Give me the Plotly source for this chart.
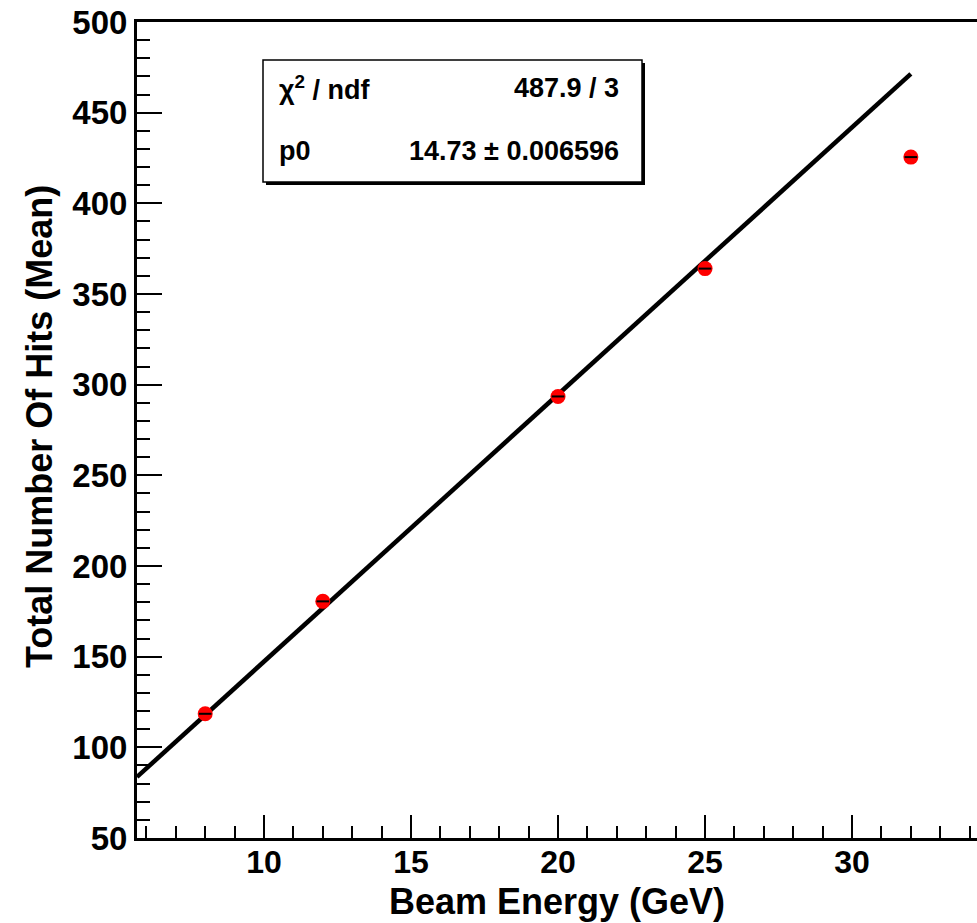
import plotly.graph_objects as go

# Data
beam_energy = [8, 12, 20, 25, 32]
mean_hits = [118.5, 180.5, 293.5, 364.0, 425.5]

# Fit: y = p0 * x
p0 = 14.73
p0_err = 0.006596
chi2 = 487.9
ndf = 3
fit_x = [5.68, 32.0]
fit_y = [p0 * v for v in fit_x]

x_range = [5.68, 34.25]
y_range = [50, 500]
x_ticks = [10, 15, 20, 25, 30]
y_ticks = [50, 100, 150, 200, 250, 300, 350, 400, 450, 500]

FONT = "Liberation Sans"

fig = go.Figure()
fig.add_trace(go.Scatter(
    x=fit_x, y=fit_y, mode="lines",
    line=dict(color="black", width=4.5), showlegend=False, hoverinfo="skip"))
fig.add_trace(go.Scatter(
    x=beam_energy, y=mean_hits, mode="markers",
    marker=dict(color="red", size=15, symbol="circle"),
    showlegend=False))
# small horizontal error dash drawn on top of each marker
fig.add_trace(go.Scatter(
    x=beam_energy, y=mean_hits, mode="markers",
    marker=dict(symbol="line-ew", size=9, line=dict(color="black", width=2)),
    showlegend=False, hoverinfo="skip"))

# Stats box (pixel -> paper conversion inside the plot area)
L, T, W, H = 137, 22, 840, 816
def px(x):
    return (x - L) / W
def py(y):
    return 1 - (y - T) / H

bx0, bx1, by0, by1 = 263, 642, 60, 182
fig.add_shape(type="rect", xref="paper", yref="paper",
              x0=px(bx0 + 3), x1=px(bx1 + 3), y0=py(by0 + 3), y1=py(by1 + 3),
              line=dict(width=0), fillcolor="black", layer="above")
fig.add_shape(type="rect", xref="paper", yref="paper",
              x0=px(bx0), x1=px(bx1), y0=py(by0), y1=py(by1),
              line=dict(color="black", width=1.5), fillcolor="white", layer="above")

stat_font = dict(family=FONT, size=27, color="black")
fig.add_annotation(xref="paper", yref="paper", x=px(277), y=py(88),
                   text="<b>χ<sup>2</sup> / ndf</b>", showarrow=False,
                   xanchor="left", yanchor="middle", font=stat_font)
fig.add_annotation(xref="paper", yref="paper", x=px(621), y=py(88),
                   text=f"<b>{chi2} / {ndf}</b>", showarrow=False,
                   xanchor="right", yanchor="middle", font=stat_font)
fig.add_annotation(xref="paper", yref="paper", x=px(277), y=py(151),
                   text="<b>p0</b>", showarrow=False,
                   xanchor="left", yanchor="middle", font=stat_font)
fig.add_annotation(xref="paper", yref="paper", x=px(621), y=py(151),
                   text=f"<b>{p0} ± {p0_err}</b>", showarrow=False,
                   xanchor="right", yanchor="middle", font=stat_font)

# Axis titles
title_font = dict(family=FONT, size=36, color="black")
fig.add_annotation(xref="paper", yref="paper", x=px(557), y=py(901),
                   text="<b>Beam Energy (GeV)</b>", showarrow=False,
                   xanchor="center", yanchor="middle", font=title_font)
fig.add_annotation(xref="paper", yref="paper", x=px(39), y=py(427),
                   text="<b>Total Number Of Hits (Mean)</b>", showarrow=False,
                   textangle=-90, xanchor="center", yanchor="middle", font=title_font)

fig.update_layout(
    width=977, height=923,
    margin=dict(l=L, r=0, t=T, b=923 - T - H),
    paper_bgcolor="white", plot_bgcolor="white",
    font=dict(family=FONT, color="black"),
    xaxis=dict(
        range=x_range, tickvals=x_ticks, ticktext=[f"<b>{v}</b>" for v in x_ticks],
        ticks="inside", ticklen=23, tickwidth=2, tickcolor="black",
        ticklabelstandoff=-6,
        minor=dict(ticks="inside", ticklen=12, tickwidth=2, tickcolor="black", dtick=1, showgrid=False),
        showline=True, linecolor="black", linewidth=3, mirror=True,
        showgrid=False, zeroline=False,
        tickfont=dict(family=FONT, size=32, color="black"),
    ),
    yaxis=dict(
        range=y_range, tickvals=y_ticks, ticktext=[f"<b>{v}</b>" for v in y_ticks],
        ticks="inside", ticklen=25, tickwidth=2, tickcolor="black",
        minor=dict(ticks="inside", ticklen=13, tickwidth=2, tickcolor="black", dtick=10, showgrid=False),
        showline=True, linecolor="black", linewidth=3, mirror=False,
        showgrid=False, zeroline=False,
        tickfont=dict(family=FONT, size=33, color="black"),
    ),
)

fig.write_html("out.html")
